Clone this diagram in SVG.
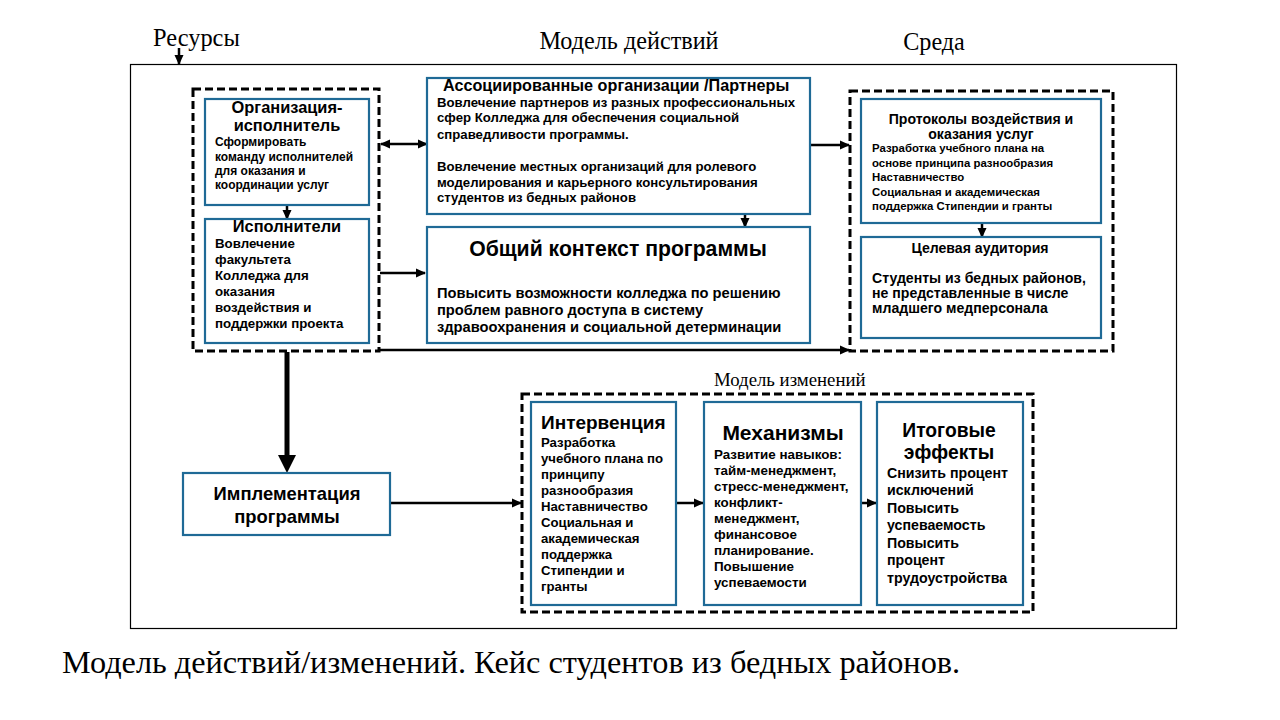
<svg xmlns="http://www.w3.org/2000/svg" width="1280" height="720" viewBox="0 0 1280 720">
<style>
.serif{font-family:"Liberation Serif","Times New Roman",serif;fill:#000}
.b{font-family:"Liberation Sans",Arial,sans-serif;font-weight:bold;fill:#000}
.box{fill:#fff;stroke:#1f6a96;stroke-width:2.2}
.dash{fill:none;stroke:#000;stroke-width:3;stroke-dasharray:8 4}
.ln{stroke:#000;stroke-width:2.5;fill:none}
</style>
<defs>
<marker id="ah" markerUnits="userSpaceOnUse" markerWidth="10" markerHeight="10" refX="9" refY="5" orient="auto-start-reverse" viewBox="0 0 10 10">
<path d="M0,0.5 L10,5 L0,9.5 z" fill="#000"/>
</marker>
</defs>
<rect width="1280" height="720" fill="#fff"/>
<rect x="130.5" y="64.5" width="1046" height="564" fill="none" stroke="#000" stroke-width="1.2"/>
<text class="serif" x="153" y="46" font-size="24.4">Ресурсы</text>
<text class="serif" x="629" y="49" font-size="24.2" text-anchor="middle">Модель действий</text>
<text class="serif" x="934" y="50" font-size="24.2" text-anchor="middle">Среда</text>
<text class="serif" x="714" y="386" font-size="18.8">Модель изменений</text>
<text class="serif" x="62" y="673" font-size="32.3">Модель действий/изменений. Кейс студентов из бедных районов.</text>

<rect class="dash" x="193" y="89" width="186" height="262"/>
<rect class="dash" x="850" y="91" width="263" height="260"/>
<rect class="dash" x="522" y="394" width="511" height="218"/>

<g id="connectors">
<line class="ln" x1="179" y1="48" x2="179" y2="64" marker-end="url(#ah)"/>
<line class="ln" x1="287" y1="205" x2="287" y2="219" marker-end="url(#ah)"/>
<line class="ln" x1="381" y1="144" x2="427" y2="144" marker-start="url(#ah)" marker-end="url(#ah)"/>
<line class="ln" x1="380" y1="273" x2="425" y2="273" marker-end="url(#ah)"/>
<line class="ln" x1="380" y1="350" x2="849" y2="350" marker-end="url(#ah)"/>
<line class="ln" x1="745" y1="214" x2="745" y2="227" marker-end="url(#ah)"/>
<line class="ln" x1="810" y1="145" x2="849" y2="145" marker-end="url(#ah)"/>
<line class="ln" x1="982" y1="223" x2="982" y2="237" marker-end="url(#ah)"/>
<line x1="287" y1="352" x2="287" y2="458" stroke="#000" stroke-width="5"/>
<polygon points="278,455 296,455 287,473" fill="#000"/>
<line class="ln" x1="390" y1="503" x2="521" y2="503" stroke-width="3" marker-end="url(#ah)"/>
<line class="ln" x1="676" y1="503" x2="703" y2="503" marker-end="url(#ah)"/>
<line class="ln" x1="861" y1="503" x2="876" y2="503" marker-end="url(#ah)"/>
</g>

<g id="org">
<rect class="box" x="205" y="99" width="164" height="106"/>
<text class="b" x="287" y="113" font-size="16.4" text-anchor="middle">Организация-</text>
<text class="b" x="287" y="131" font-size="16.4" text-anchor="middle">исполнитель</text>
<text class="b" font-size="12" x="215"><tspan x="215" y="146">Сформировать</tspan><tspan x="215" y="161">команду исполнителей</tspan><tspan x="215" y="175">для оказания и</tspan><tspan x="215" y="189">координации услуг</tspan></text>
</g>

<g id="ispolniteli">
<rect class="box" x="205" y="219" width="164" height="124"/>
<text class="b" x="287" y="232" font-size="16.4" text-anchor="middle">Исполнители</text>
<text class="b" font-size="13.3" x="215"><tspan x="215" y="248">Вовлечение</tspan><tspan x="215" y="264">факультета</tspan><tspan x="215" y="280">Колледжа для</tspan><tspan x="215" y="296">оказания</tspan><tspan x="215" y="312">воздействия и</tspan><tspan x="215" y="328">поддержки проекта</tspan></text>
</g>

<g id="partners">
<rect class="box" x="427" y="78" width="383" height="136"/>
<text class="b" x="443" y="91" font-size="16.2">Ассоциированные  организации /Партнеры</text>
<text class="b" font-size="13.2"><tspan x="437" y="107">Вовлечение партнеров из разных профессиональных</tspan><tspan x="437" y="122">сфер Колледжа для обеспечения социальной</tspan><tspan x="437" y="139">справедливости программы.</tspan><tspan x="437" y="171">Вовлечение местных организаций для ролевого</tspan><tspan x="437" y="187">моделирования и карьерного консультирования</tspan><tspan x="437" y="202">студентов из бедных районов</tspan></text>
</g>

<g id="context">
<rect class="box" x="427" y="227" width="383" height="116"/>
<text class="b" x="618" y="256" font-size="21.2" text-anchor="middle">Общий контекст программы</text>
<text class="b" font-size="14.7"><tspan x="437" y="298">Повысить возможности колледжа по решению</tspan><tspan x="437" y="315">проблем равного доступа в систему</tspan><tspan x="437" y="332">здравоохранения и социальной детерминации</tspan></text>
</g>

<g id="protocols">
<rect class="box" x="861" y="99" width="240" height="124"/>
<text class="b" x="981" y="124" font-size="14.1" text-anchor="middle">Протоколы воздействия и</text>
<text class="b" x="981" y="139" font-size="14.1" text-anchor="middle">оказания услуг</text>
<text class="b" font-size="11.4"><tspan x="872" y="152">Разработка учебного плана на</tspan><tspan x="872" y="167">основе принципа разнообразия</tspan><tspan x="872" y="181">Наставничество</tspan><tspan x="872" y="196">Социальная и академическая</tspan><tspan x="872" y="210">поддержка Стипендии и гранты</tspan></text>
</g>

<g id="audience">
<rect class="box" x="861" y="237" width="240" height="101"/>
<text class="b" x="980" y="253" font-size="14.1" text-anchor="middle">Целевая аудитория</text>
<text class="b" font-size="14.1"><tspan x="872" y="283">Студенты  из бедных районов,</tspan><tspan x="872" y="298">не представленные в числе</tspan><tspan x="872" y="313">младшего медперсонала</tspan></text>
</g>

<g id="implementation">
<rect class="box" x="183" y="473" width="207" height="62"/>
<text class="b" x="287" y="500" font-size="18.4" text-anchor="middle">Имплементация</text>
<text class="b" x="287" y="523" font-size="18.4" text-anchor="middle">программы</text>
</g>

<g id="intervention">
<rect class="box" x="531" y="402" width="145" height="203"/>
<text class="b" x="541" y="429" font-size="19">Интервенция</text>
<text class="b" font-size="13.2"><tspan x="541" y="447">Разработка</tspan><tspan x="541" y="463">учебного плана по</tspan><tspan x="541" y="479">принципу</tspan><tspan x="541" y="495">разнообразия</tspan><tspan x="541" y="511">Наставничество</tspan><tspan x="541" y="527">Социальная и</tspan><tspan x="541" y="543">академическая</tspan><tspan x="541" y="559">поддержка</tspan><tspan x="541" y="575">Стипендии и</tspan><tspan x="541" y="591">гранты</tspan></text>
</g>

<g id="mechanisms">
<rect class="box" x="704" y="402" width="157" height="203"/>
<text class="b" x="783" y="440" font-size="21" text-anchor="middle">Механизмы</text>
<text class="b" font-size="13.4"><tspan x="714" y="459">Развитие навыков:</tspan><tspan x="714" y="475">тайм-менеджмент,</tspan><tspan x="714" y="491">стресс-менеджмент,</tspan><tspan x="714" y="507">конфликт-</tspan><tspan x="714" y="523">менеджмент,</tspan><tspan x="714" y="539">финансовое</tspan><tspan x="714" y="555">планирование.</tspan><tspan x="714" y="571">Повышение</tspan><tspan x="714" y="587">успеваемости</tspan></text>
</g>

<g id="outcomes">
<rect class="box" x="877" y="402" width="146" height="203"/>
<text class="b" x="949" y="437" font-size="19.3" text-anchor="middle">Итоговые</text>
<text class="b" x="949" y="459" font-size="19.3" text-anchor="middle">эффекты</text>
<text class="b" font-size="14.2"><tspan x="887" y="478">Снизить процент</tspan><tspan x="887" y="495">исключений</tspan><tspan x="887" y="513">Повысить</tspan><tspan x="887" y="530">успеваемость</tspan><tspan x="887" y="548">Повысить</tspan><tspan x="887" y="565">процент</tspan><tspan x="887" y="583">трудоустройства</tspan></text>
</g>
</svg>
